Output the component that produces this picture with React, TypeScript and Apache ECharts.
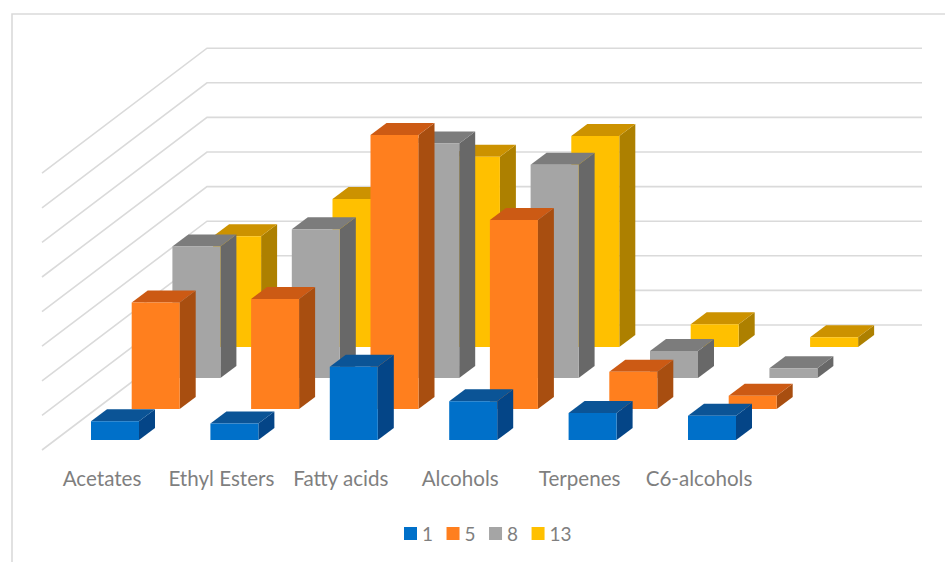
import React, { useEffect, useRef } from "react";
import * as echarts from "echarts";

const categories = ["Acetates", "Ethyl Esters", "Fatty acids", "Alcohols", "Terpenes", "C6-alcohols"];
const seriesNames = ["1", "5", "8", "13"];
const values1 = [2.7, 2.4, 10.6, 5.6, 3.9, 3.5];
const values5 = [15.4, 15.9, 39.6, 27.3, 5.4, 1.9];
const values8 = [19, 21.5, 33.9, 30.8, 3.9, 1.4];
const values13 = [16, 21.4, 27.5, 30.5, 3.3, 1.4];
const wallTicks = [0, 5, 10, 15, 20, 25, 30, 35, 40];

// front, top and side shades of each box
const shades = [
  { front: "#0070C9", top: "#0B5496", side: "#044587" },
  { front: "#FF7F1E", top: "#CC5A14", side: "#A84E10" },
  { front: "#A5A5A5", top: "#7C7C7C", side: "#686868" },
  { front: "#FFC000", top: "#CC9200", side: "#AD8000" },
];

const GRID = { left: 42.3, width: 716.4, top: 163.2, height: 276.8 };
const SLOT = { dx: 40.7, dy: -31 };
const BOX = { width: 48, dx: 16, dy: -12, shift: 13 };
const WALL = { leftX: 42, cornerX: 207, rightX: 922, floorDrop: 10, backRise: 125 };

const poly = (points: number[][], fill: string) => ({
  type: "polygon",
  shape: { points },
  style: { fill, stroke: "none" },
});

const boxRenderer = (slot: number) => (_: unknown, api: any) => {
  const [cx, yTop] = api.coord([api.value(0), api.value(1)]);
  const [, yBase] = api.coord([api.value(0), 0]);
  const x0 = cx + BOX.shift - BOX.width / 2 + slot * SLOT.dx;
  const x1 = x0 + BOX.width;
  const top = yTop + slot * SLOT.dy;
  const base = yBase + slot * SLOT.dy;
  const c = shades[slot];
  return {
    type: "group",
    children: [
      poly([[x1, top], [x1 + BOX.dx, top + BOX.dy], [x1 + BOX.dx, base + BOX.dy], [x1, base]], c.side),
      poly([[x0, top], [x0 + BOX.dx, top + BOX.dy], [x1 + BOX.dx, top + BOX.dy], [x1, top]], c.top),
      poly([[x0, top], [x1, top], [x1, base], [x0, base]], c.front),
    ],
  };
};

const wallRenderer = (_: unknown, api: any) => {
  const [, y] = api.coord([0, api.value(0)]);
  const front = y + WALL.floorDrop;
  const back = front - WALL.backRise;
  return {
    type: "polyline",
    shape: { points: [[WALL.leftX, front], [WALL.cornerX, back], [WALL.rightX, back]] },
    style: { fill: "none", stroke: "#DADADA", lineWidth: 1.6 },
  };
};

const boxSeries = (slot: number, values: number[]) => ({
  type: "custom",
  name: seriesNames[slot],
  renderItem: boxRenderer(slot),
  data: values.map((v, i) => [i, v]),
  encode: { x: 0, y: 1 },
  clip: false,
  silent: true,
  itemStyle: { color: shades[slot].front },
});

export default function App() {
  const ref = useRef<HTMLDivElement>(null);
  useEffect(() => {
    document.body.style.margin = "0";
    const chart = echarts.init(ref.current!, undefined, { renderer: "svg" });
    chart.setOption({
      animation: false,
      backgroundColor: "#FFFFFF",
      textStyle: { fontFamily: "Lato" },
      grid: { left: GRID.left, top: GRID.top, width: GRID.width, height: GRID.height },
      xAxis: {
        type: "category",
        data: categories,
        axisLine: { show: false },
        axisTick: { show: false },
        axisLabel: { color: "#7F7F7F", fontFamily: "Lato", fontSize: 20.6, margin: 27, interval: 0 },
      },
      yAxis: { type: "value", min: 0, max: 40, interval: 5, show: false },
      legend: {
        data: seriesNames,
        bottom: 14,
        left: 399,
        icon: "rect",
        itemWidth: 13,
        itemHeight: 13,
        itemGap: 13.5,
        textStyle: { color: "#7F7F7F", fontFamily: "Lato", fontSize: 19 },
      },
      graphic: [
        {
          type: "polyline",
          silent: true,
          shape: { points: [[12, 562], [12, 14], [945, 14]] },
          style: { fill: "none", stroke: "#DADADA", lineWidth: 1.6 },
        },
      ],
      // painted back to front, so the deepest row comes first
      series: [
        {
          type: "custom",
          name: "walls",
          renderItem: wallRenderer,
          data: wallTicks.map((t) => [t]),
          encode: { y: 0 },
          clip: false,
          silent: true,
        },
        boxSeries(3, values13),
        boxSeries(2, values8),
        boxSeries(1, values5),
        boxSeries(0, values1),
      ],
    });
    return () => chart.dispose();
  }, []);
  return <div ref={ref} style={{ width: 945, height: 562 }} />;
}
